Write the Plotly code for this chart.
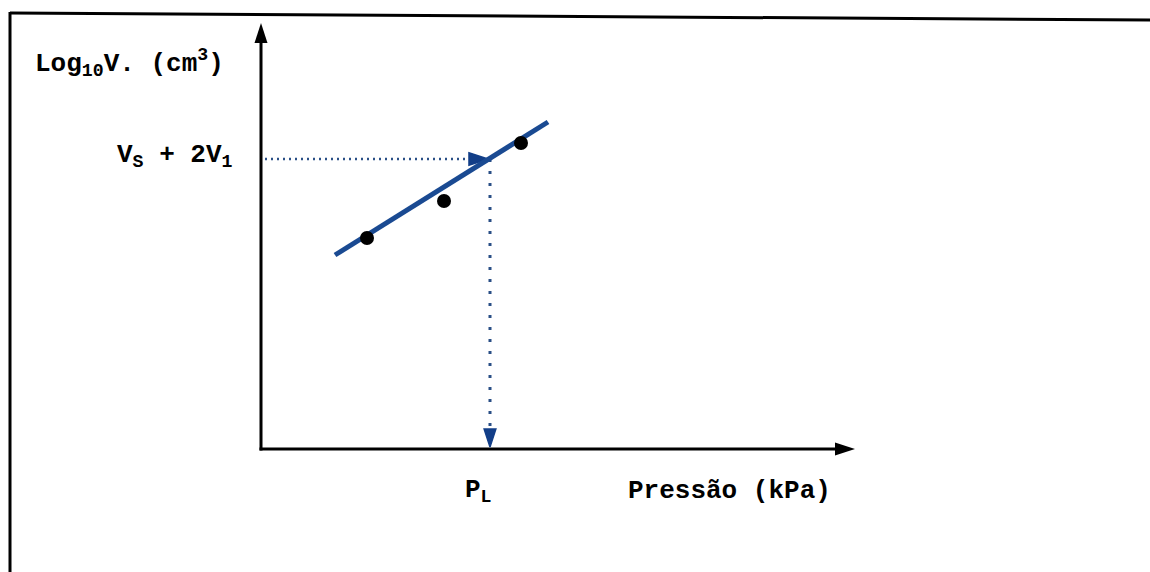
import plotly.graph_objects as go

# Measured points: pressure (arbitrary units) vs log10 of volume
pressure = [1.06, 1.83, 2.60]
log_volume = [2.11, 2.48, 3.06]

# Straight line drawn through the points
fit_x = [0.74, 2.87]
fit_y = [1.94, 3.27]

# Reading level V_S + 2V_1 and the matching limit pressure P_L
ref_level = 2.90
p_limit = 2.29
ref_line_start = 0.04
ref_arrow_tip = 2.27
p_arrow_tip = 0.02

# Extent of the two axes
x_axis_end = 5.94
y_axis_end = 4.26

FONT = "Courier New, Liberation Mono, monospace"
BLUE = "#1a4a92"
HEAD_BLUE = "#123e88"
DOT_BLUE = "#2a4f86"

fig = go.Figure()

# axes with arrowheads
fig.add_trace(go.Scatter(x=[-0.015, x_axis_end - 0.15], y=[0, 0], mode="lines",
                         line=dict(color="black", width=3), hoverinfo="skip"))
fig.add_trace(go.Scatter(x=[0, 0], y=[-0.015, y_axis_end - 0.15], mode="lines",
                         line=dict(color="black", width=3), hoverinfo="skip"))
fig.add_trace(go.Scatter(x=[x_axis_end, 0], y=[0, y_axis_end], mode="markers",
                         marker=dict(symbol="arrow", size=21, angle=[90, 0], color="black",
                                     line=dict(width=0)), hoverinfo="skip"))

# dotted construction lines
fig.add_trace(go.Scatter(x=[ref_line_start, ref_arrow_tip - 0.12], y=[ref_level, ref_level],
                         mode="lines", line=dict(color=DOT_BLUE, width=2.5, dash="2px,4px"),
                         hoverinfo="skip"))
fig.add_trace(go.Scatter(x=[p_limit, p_limit], y=[ref_level, p_arrow_tip + 0.1],
                         mode="lines", line=dict(color=DOT_BLUE, width=3, dash="3px,9px"),
                         hoverinfo="skip"))
fig.add_trace(go.Scatter(x=[ref_arrow_tip], y=[ref_level], mode="markers",
                         marker=dict(symbol="arrow", size=20, angle=90, color=HEAD_BLUE,
                                     opacity=1, line=dict(width=1.5, color=HEAD_BLUE)),
                         hoverinfo="skip"))
fig.add_trace(go.Scatter(x=[p_limit], y=[p_arrow_tip], mode="markers",
                         marker=dict(symbol="arrow", size=19, angle=180, color=HEAD_BLUE,
                                     opacity=1, line=dict(width=1.5, color=HEAD_BLUE)),
                         hoverinfo="skip"))

# fitted line and data points
fig.add_trace(go.Scatter(x=fit_x, y=fit_y, mode="lines",
                         line=dict(color=BLUE, width=5), hoverinfo="skip"))
fig.add_trace(go.Scatter(x=pressure, y=log_volume, mode="markers",
                         marker=dict(color="black", size=14, line=dict(width=0))))

label_font = dict(family=FONT, size=26, color="black", weight=700)
fig.add_annotation(x=-2.28, y=3.86, text="Log<sub>10</sub>V. (cm<sup>3</sup>)",
                   showarrow=False, xanchor="left", yanchor="middle", font=label_font)
fig.add_annotation(x=-0.26, y=ref_level + 0.03, text="V<sub>S</sub> + 2V<sub>1</sub>",
                   showarrow=False, xanchor="right", yanchor="middle", font=label_font)
fig.add_annotation(x=p_limit, y=-0.42, xshift=-12, text="P<sub>L</sub>",
                   showarrow=False, xanchor="center", yanchor="middle", font=label_font)
fig.add_annotation(x=4.68, y=-0.42, text="Pressão (kPa)",
                   showarrow=False, xanchor="center", yanchor="middle", font=label_font)

W, H = 1150, 572
# frame: top and left edges
fig.add_shape(type="line", xref="paper", yref="paper",
              x0=10 / W, y0=1 - 13 / H, x1=1, y1=1 - 20 / H,
              line=dict(color="black", width=3))
fig.add_shape(type="line", xref="paper", yref="paper",
              x0=10 / W, y0=1 - 12 / H, x1=10 / W, y1=0,
              line=dict(color="black", width=3))

fig.update_layout(
    width=W, height=H,
    margin=dict(l=0, r=0, t=0, b=0),
    paper_bgcolor="white", plot_bgcolor="white",
    showlegend=False,
    xaxis=dict(range=[-2.61, 8.89], visible=False, fixedrange=True),
    yaxis=dict(range=[-1.23, 4.49], visible=False, fixedrange=True),
)

fig.write_html("out.html")
